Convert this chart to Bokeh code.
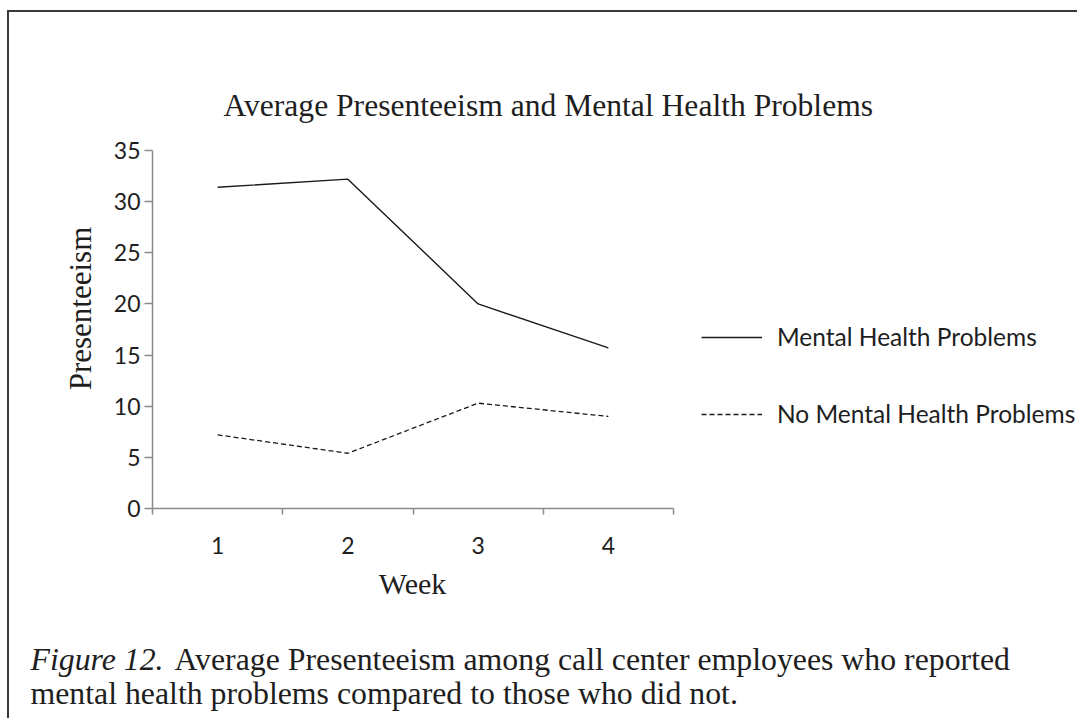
from bokeh.plotting import figure
from bokeh.models import Range1d, FixedTicker, Label, LinearAxis
from bokeh.embed import file_html
from bokeh.resources import INLINE

# ---------------- data ----------------
weeks = [1, 2, 3, 4]
week_labels = ["1", "2", "3", "4"]
mental = [31.4, 32.2, 20.0, 15.7]
no_mental = [7.2, 5.4, 10.3, 9.0]
y_ticks = [0, 5, 10, 15, 20, 25, 30, 35]
series_names = ["Mental Health Problems", "No Mental Health Problems"]
title_text = "Average Presenteeism and Mental Health Problems"
x_label = "Week"
y_label = "Presenteeism"
caption_italic = "Figure 12."
caption_line1 = "Average Presenteeism among call center employees who reported"
caption_line2 = "mental health problems compared to those who did not."

# ---------------- layout (page pixels) ----------------
OX, OY = 9, 12           # canvas origin on the page
W, H = 1070, 708
AX_L, AX_R = 152, 673    # x axis extent
Y0, Y35 = 508, 150       # y axis extent
PXU = (AX_R - AX_L) / 4.0


def dx(ix):
    return 0.5 + (ix - AX_L) / PXU


def dy(iy):
    return 35.0 * (Y0 - iy) / (Y0 - Y35)


SERIF = "Liberation Serif"
SANS = "Lato"
TXT = "#1e1e1e"
AXC = "#8a8a8a"

p = figure(width=W, height=H,
           x_range=Range1d(dx(OX), dx(OX + W)),
           y_range=Range1d(dy(OY + H), dy(OY)),
           x_axis_type=None, y_axis_type=None,
           output_backend="svg", toolbar_location=None,
           min_border=0, min_border_left=0, min_border_right=0,
           min_border_top=0, min_border_bottom=0)
p.styles = {"margin-left": f"{OX}px", "margin-top": f"{OY}px",
            "box-shadow": "-2px -2px 0 0 #3a3a3a"}
p.outline_line_color = None
p.background_fill_color = "white"
p.border_fill_color = "white"

# x axis
xa = LinearAxis(fixed_location=0)
xa.ticker = FixedTicker(ticks=weeks, minor_ticks=[0.5, 1.5, 2.5, 3.5, 4.5])
xa.major_label_overrides = {w: l for w, l in zip(weeks, week_labels)}
xa.bounds = (0.5, 4.5)
xa.axis_line_color = AXC
xa.axis_line_width = 1.5
xa.major_tick_out = 0
xa.major_tick_in = 0
xa.minor_tick_out = 6
xa.minor_tick_in = 0
xa.minor_tick_line_color = AXC
xa.minor_tick_line_width = 1.5
xa.major_label_standoff = 22
xa.major_label_text_font = SANS
xa.major_label_text_font_size = "23px"
xa.major_label_text_color = TXT
p.add_layout(xa, "below")

# y axis
ya = LinearAxis(fixed_location=0.5)
ya.ticker = FixedTicker(ticks=y_ticks, minor_ticks=[])
ya.bounds = (0, 35)
ya.axis_line_color = AXC
ya.axis_line_width = 1.5
ya.major_tick_out = 8
ya.major_tick_in = 0
ya.major_tick_line_color = AXC
ya.major_tick_line_width = 1.5
ya.minor_tick_out = 0
ya.minor_tick_in = 0
ya.major_label_standoff = 4
ya.major_label_text_font = SANS
ya.major_label_text_font_size = "23px"
ya.major_label_text_color = TXT
p.add_layout(ya, "left")

# series
p.line(weeks, mental, line_color="#1a1a1a", line_width=1.4,
       legend_label=series_names[0])
p.line(weeks, no_mental, line_color="#1a1a1a", line_width=1.3, line_dash="5 3",
       legend_label=series_names[1])

lg = p.legend[0]
lg.location = (701 - OX, (OY + H) - 428)
lg.orientation = "vertical"
lg.glyph_width = 61
lg.glyph_height = 28
lg.label_height = 28
lg.label_standoff = 15
lg.spacing = 48
lg.padding = 0
lg.margin = 0
lg.border_line_alpha = 0
lg.background_fill_alpha = 0
lg.label_text_font = SANS
lg.label_text_font_size = "24.5px"
lg.label_text_color = TXT

# texts
p.add_layout(Label(x=dx(223), y=dy(105), text=title_text, text_align="left",
                   text_baseline="alphabetic", text_font=SERIF,
                   text_font_size="31.6px", text_color=TXT))
p.add_layout(Label(x=dx(80), y=dy(308), text=y_label, angle=1.5708,
                   text_align="center", text_baseline="middle",
                   text_font=SERIF, text_font_size="31px", text_color=TXT))
p.add_layout(Label(x=dx(412), y=dy(583), text=x_label, text_align="center",
                   text_baseline="middle", text_font=SERIF,
                   text_font_size="30px", text_color=TXT))
p.add_layout(Label(x=dx(30), y=dy(659), text=caption_italic, text_align="left",
                   text_baseline="alphabetic", text_font=SERIF,
                   text_font_style="italic", text_font_size="31.8px", text_color=TXT))
p.add_layout(Label(x=dx(174), y=dy(659), text=caption_line1, text_align="left",
                   text_baseline="alphabetic", text_font=SERIF,
                   text_font_size="31.8px", text_color=TXT))
p.add_layout(Label(x=dx(30), y=dy(693), text=caption_line2, text_align="left",
                   text_baseline="alphabetic", text_font=SERIF,
                   text_font_size="31.8px", text_color=TXT))

open("out.html", "w").write(file_html(p, INLINE))
